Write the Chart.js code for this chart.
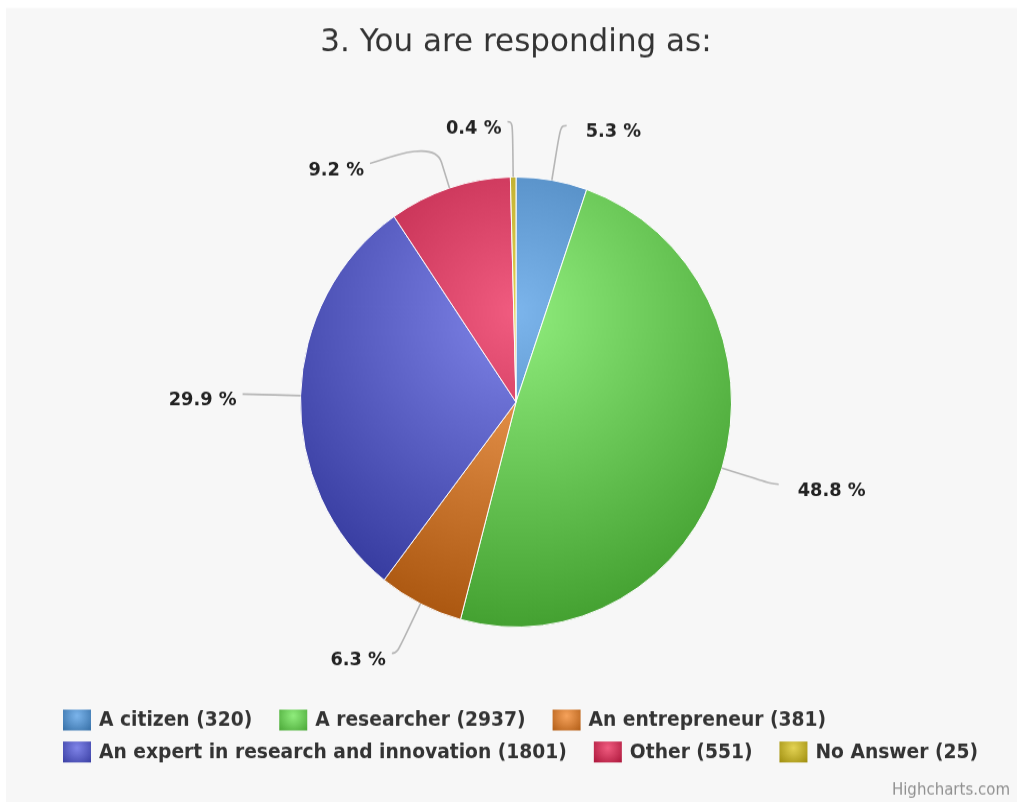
<!DOCTYPE html>
<html>
<head>
<meta charset="utf-8">
<script src="https://cdn.jsdelivr.net/npm/chart.js@4.4.0/dist/chart.umd.min.js"></script>
<style>
html,body{margin:0;padding:0;background:#fff;overflow:hidden;}
canvas{display:block;}
</style>
</head>
<body>
<canvas id="c" width="1017" height="768" style="width:1017px;height:802px;"></canvas>
<script>
// ---- data ----
const chartTitle = '3. You are responding as:';
const categories = ['A citizen', 'A researcher', 'An entrepreneur', 'An expert in research and innovation', 'Other', 'No Answer'];
const counts = [320, 2937, 381, 1801, 551, 25];
const seriesColors = ['#7cb5ec', '#90ed7d', '#f7a35c', '#8085e9', '#f15c80', '#e4d354'];
const creditText = 'Highcharts.com';

const total = counts.reduce((a, b) => a + b, 0);
const percentLabels = counts.map(v => (v / total * 100).toFixed(1) + ' %');
const legendLabels = categories.map((c, i) => c + ' (' + counts[i] + ')');

const PIE_R = 215.5;

function shade(hex, amt) {
  const n = parseInt(hex.slice(1), 16);
  const d = Math.round(255 * amt);
  const cl = v => Math.max(0, Math.min(255, v + d));
  return 'rgb(' + cl((n >> 16) & 255) + ',' + cl((n >> 8) & 255) + ',' + cl(n & 255) + ')';
}

function sliceFill(context) {
  const chart = context.chart;
  const ca = chart.chartArea;
  const base = seriesColors[context.dataIndex];
  if (!ca) return base;
  const cx = (ca.left + ca.right) / 2, cy = (ca.top + ca.bottom) / 2;
  const g = chart.ctx.createRadialGradient(cx, cy - 0.4 * PIE_R, 0, cx, cy - 0.4 * PIE_R, 1.4 * PIE_R);
  g.addColorStop(0, base);
  g.addColorStop(1, shade(base, -0.3));
  return g;
}

const bgPlugin = {
  id: 'bg',
  beforeDraw(chart) {
    const ctx = chart.ctx;
    ctx.save();
    ctx.fillStyle = '#ffffff';
    ctx.fillRect(0, 0, chart.width, chart.height);
    ctx.fillStyle = '#f7f7f7';
    ctx.fillRect(6, 7.7, chart.width - 6, chart.height - 7.7);
    ctx.restore();
  }
};

const labelPlugin = {
  id: 'hcLabels',
  afterDatasetsDraw(chart) {
    const meta = chart.getDatasetMeta(0);
    const ctx = chart.ctx;
    const D = 53, off = 26, minGap = 40;
    const items = meta.data.map((arc, i) => {
      const p = arc.getProps(['x', 'y', 'startAngle', 'endAngle', 'outerRadius'], true);
      const a = (p.startAngle + p.endAngle) / 2;
      const RL = p.outerRadius + D;
      return { i, a, cx: p.x, cy: p.y, R: p.outerRadius, RL, y: p.y + RL * Math.sin(a), right: Math.cos(a) >= 0 };
    });
    [true, false].forEach(side => {
      const s = items.filter(it => it.right === side).sort((p, q) => p.y - q.y);
      for (let k = 1; k < s.length; k++) {
        if (s[k].y < s[k - 1].y + minGap) s[k].y = s[k - 1].y + minGap;
      }
    });
    ctx.save();
    items.forEach(it => {
      const dy = it.y - it.cy;
      const dx = Math.sqrt(Math.max(0, it.RL * it.RL - dy * dy));
      const x = it.cx + (it.right ? dx : -dx);
      const y = it.y;
      const bx = it.cx + it.R * Math.cos(it.a), by = it.cy + it.R * Math.sin(it.a);
      const b2x = it.cx + (it.R + off) * Math.cos(it.a), b2y = it.cy + (it.R + off) * Math.sin(it.a);
      const c2x = 2 * b2x - bx, c2y = 2 * b2y - by;
      const sx = x + (it.right ? 6 : -5);
      ctx.beginPath();
      ctx.moveTo(sx, y);
      ctx.bezierCurveTo(x, y, c2x, c2y, b2x, b2y);
      ctx.lineTo(bx, by);
      ctx.strokeStyle = 'rgba(170,170,170,0.85)';
      ctx.lineWidth = 1.6;
      ctx.stroke();
      ctx.font = 'bold 17.8px "DejaVu Sans"';
      ctx.fillStyle = '#222';
      ctx.textBaseline = 'middle';
      ctx.textAlign = it.right ? 'left' : 'right';
      ctx.fillText(percentLabels[it.i], it.right ? sx + 19 : sx - 6, y + 6.5);
    });
    ctx.restore();
  }
};

const legendPlugin = {
  id: 'hcLegend',
  afterDraw(chart) {
    const ctx = chart.ctx;
    ctx.save();
    ctx.font = 'bold 18.7px "DejaVu Sans"';
    ctx.textBaseline = 'middle';
    ctx.textAlign = 'left';
    const startX = 63, maxRight = 1012, row0 = 689.5, rowStep = 30.6;
    const bw = 28, bh = 20, gapText = 8, gapItem = 27;
    let x = startX, row = 0;
    legendLabels.forEach((t, i) => {
      const w = bw + gapText + ctx.measureText(t).width;
      if (x > startX && x + w > maxRight) { row++; x = startX; }
      const yc = row0 + row * rowStep;
      const by = yc - bh / 2;
      const g = ctx.createRadialGradient(x + bw / 2, by + 0.3 * bh, 0, x + bw / 2, by + 0.3 * bh, 0.7 * bw * 1.1);
      g.addColorStop(0, seriesColors[i]);
      g.addColorStop(1, shade(seriesColors[i], -0.3));
      ctx.fillStyle = g;
      ctx.fillRect(x, by, bw, bh);
      ctx.fillStyle = '#333333';
      ctx.fillText(t, x + bw + gapText, yc + 1);
      x += w + gapItem;
    });
    ctx.font = '15px "DejaVu Sans"';
    ctx.fillStyle = '#909090';
    ctx.textAlign = 'right';
    ctx.fillText(creditText, 1010, 756.7);
    ctx.restore();
  }
};

new Chart(document.getElementById('c'), {
  type: 'pie',
  data: {
    labels: categories,
    datasets: [{
      data: counts,
      backgroundColor: sliceFill,
      borderColor: '#ffffff',
      borderWidth: 1,
      radius: PIE_R
    }]
  },
  options: {
    responsive: false,
    animation: false,
    devicePixelRatio: 1,
    layout: { padding: { left: 15, right: 0, top: 0, bottom: 65.2 } },
    plugins: {
      legend: { display: false },
      tooltip: { enabled: false },
      title: {
        display: true,
        text: chartTitle,
        color: '#333333',
        font: { family: '"DejaVu Sans"', size: 31, weight: 'normal' },
        padding: { top: 22, bottom: 8 }
      }
    }
  },
  plugins: [bgPlugin, labelPlugin, legendPlugin]
});
</script>
</body>
</html>
